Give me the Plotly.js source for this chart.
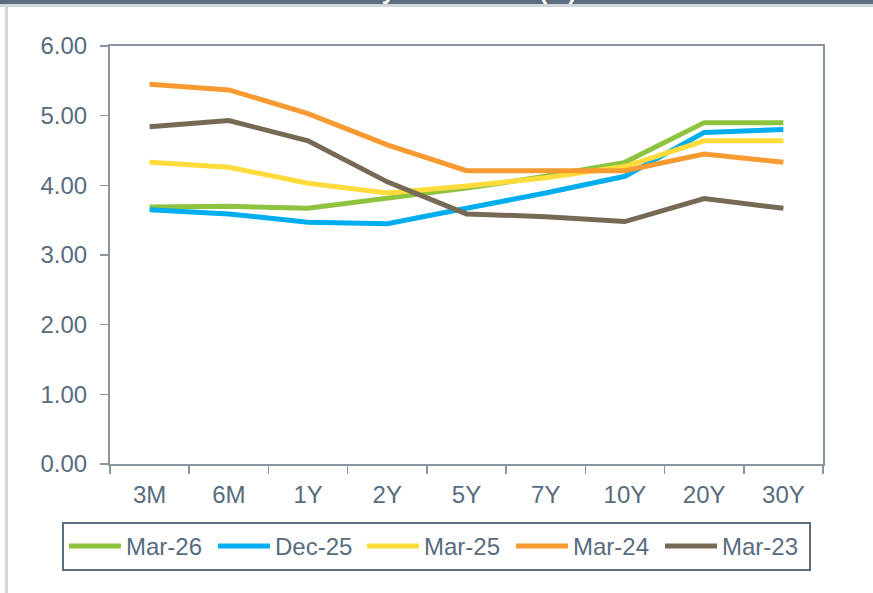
<!DOCTYPE html>
<html>
<head>
<meta charset="utf-8">
<script src="https://cdn.plot.ly/plotly-3.0.1.min.js"></script>
<style>
  html, body { margin:0; padding:0; background:#ffffff; }
  #wrap { position:relative; width:873px; height:593px; overflow:hidden; }
  #topbar { position:absolute; left:0; top:0; width:873px; height:4px; background:#5b6d7e; overflow:hidden; }
  #topband { position:absolute; left:0; top:4px; width:873px; height:3px; background:#cfd6de; }
  #leftline { position:absolute; left:5px; top:7px; width:3px; height:586px; background:#cfd6de; }
  #ttl { position:absolute; left:255px; top:-23px; white-space:nowrap; font-family:"Liberation Sans", Arial, sans-serif; font-weight:bold; font-size:24px; color:#ffffff; line-height:28px; }
  #chart { position:absolute; left:0; top:0; width:873px; height:593px; }
</style>
</head>
<body>
<div id="wrap">
  <div id="topbar"><span id="ttl">US Treasury Yield Curve (%)</span></div>
  <div id="topband"></div>
  <div id="leftline"></div>
  <div id="chart"></div>
</div>
<script>
const tenors = ["3M","6M","1Y","2Y","5Y","7Y","10Y","20Y","30Y"];
const seriesNames = ["Mar-26","Dec-25","Mar-25","Mar-24","Mar-23"];
const mar26 = [3.69, 3.70, 3.67, 3.81, 3.96, 4.13, 4.33, 4.90, 4.90];
const dec25 = [3.65, 3.59, 3.47, 3.45, 3.67, 3.89, 4.13, 4.76, 4.80];
const mar25 = [4.33, 4.26, 4.03, 3.89, 3.99, 4.11, 4.27, 4.64, 4.64];
const mar24 = [5.45, 5.37, 5.03, 4.58, 4.21, 4.21, 4.21, 4.45, 4.33];
const mar23 = [4.84, 4.93, 4.64, 4.05, 3.59, 3.55, 3.48, 3.81, 3.67];
const seriesValues = [mar26, dec25, mar25, mar24, mar23];
const seriesColors = ["#8dc33f", "#00aeef", "#ffdb3c", "#f89a32", "#776a55"];
const yTicks = [0, 1, 2, 3, 4, 5, 6];

const textColor = "#586c7e";
const font = {family: '"Liberation Sans", Arial, sans-serif', size: 24, color: textColor};

const traces = seriesNames.map((name, i) => ({
  type: "scatter",
  mode: "lines",
  name: name,
  x: tenors,
  y: seriesValues[i],
  line: {color: seriesColors[i], width: 5},
  hoverinfo: "x+y+name"
}));

const layout = {
  width: 873,
  height: 593,
  margin: {l: 110, r: 50, t: 46, b: 129, pad: 0, autoexpand: false},
  paper_bgcolor: "rgba(0,0,0,0)",
  plot_bgcolor: "#ffffff",
  font: font,
  showlegend: true,
  legend: {
    orientation: "h",
    x: (62 - 110) / 713, xanchor: "left",
    y: (464 - 522) / 418, yanchor: "top",
    bordercolor: "#5a6e80",
    borderwidth: 2,
    bgcolor: "#ffffff",
    font: font,
    itemwidth: 52,
    entrywidth: 82,
    tracegroupgap: 0
  },
  xaxis: {
    type: "category",
    categoryorder: "array",
    categoryarray: tenors,
    range: [-0.5, tenors.length - 0.5],
    showline: true, linecolor: "#8a949e", linewidth: 2, mirror: true,
    ticks: "outside", tickson: "boundaries", ticklen: 8, tickcolor: "#8a949e", tickwidth: 1.5,
    showgrid: false, zeroline: false,
    tickfont: font,
    ticklabelstandoff: 8
  },
  yaxis: {
    range: [0, 6],
    tickvals: yTicks,
    tickformat: ".2f",
    showline: true, linecolor: "#8a949e", linewidth: 2, mirror: true,
    ticks: "outside", ticklen: 8, tickcolor: "#8a949e", tickwidth: 1.5,
    showgrid: false, zeroline: false,
    tickfont: font,
    ticklabelstandoff: 8
  }
};

Plotly.newPlot("chart", traces, layout, {displayModeBar: false, staticPlot: true});
</script>
</body>
</html>
